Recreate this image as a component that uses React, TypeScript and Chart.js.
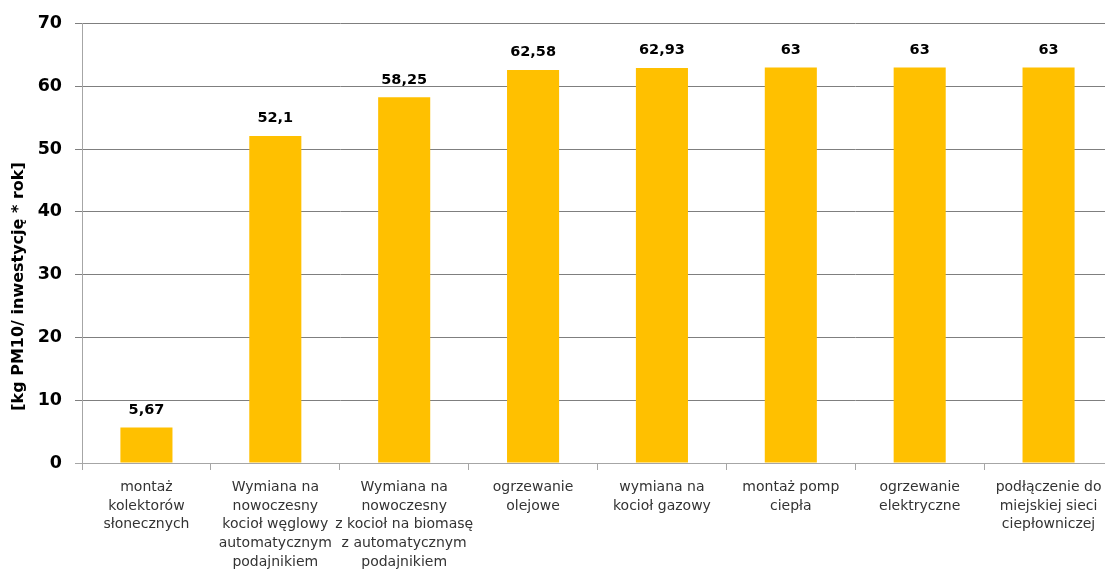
import React, { useEffect, useRef } from "react";
import { Chart, registerables } from "chart.js";

Chart.register(...registerables);

const categories: string[][] = [
  ["montaż", "kolektorów", "słonecznych"],
  ["Wymiana na", "nowoczesny", "kocioł węglowy", "automatycznym", "podajnikiem"],
  ["Wymiana na", "nowoczesny", "z kocioł na biomasę", "z automatycznym", "podajnikiem"],
  ["ogrzewanie", "olejowe"],
  ["wymiana na", "kocioł gazowy"],
  ["montaż pomp", "ciepła"],
  ["ogrzewanie", "elektryczne"],
  ["podłączenie do", "miejskiej sieci", "ciepłowniczej"],
];
const values: number[] = [5.67, 52.1, 58.25, 62.58, 62.93, 63, 63, 63];
const valueLabels: string[] = ["5,67", "52,1", "58,25", "62,58", "62,93", "63", "63", "63"];
const yAxisTitle = "[kg PM10/ inwestycję * rok]";
const yMin = 0;
const yMax = 70;
const yStep = 10;

const W = 1125;
const H = 569;

const labelsPlugin = {
  id: "valueLabels",
  afterDatasetsDraw(chart: any) {
    const ctx = chart.ctx;
    const meta = chart.getDatasetMeta(0);
    ctx.save();
    ctx.font = "bold 14.5px 'DejaVu Sans'";
    ctx.fillStyle = "#000000";
    ctx.textAlign = "center";
    ctx.textBaseline = "middle";
    meta.data.forEach((el: any, i: number) => {
      ctx.fillText(valueLabels[i], el.x, el.y - 17.5);
    });
    ctx.restore();
  },
  afterDraw(chart: any) {
    const ctx = chart.ctx;
    ctx.save();
    ctx.translate(19, 286.5);
    ctx.rotate(-Math.PI / 2);
    ctx.font = "bold 16px 'DejaVu Sans'";
    ctx.fillStyle = "#000000";
    ctx.textAlign = "center";
    ctx.textBaseline = "middle";
    ctx.fillText(yAxisTitle, 0, 0);
    ctx.restore();
  },
};

export default function App() {
  const ref = useRef<HTMLCanvasElement | null>(null);
  useEffect(() => {
    if (!ref.current) return;
    const chart = new Chart(ref.current, {
      type: "bar",
      data: {
        labels: categories,
        datasets: [
          {
            data: values,
            backgroundColor: "#FFC000",
            borderWidth: 0,
            categoryPercentage: 1,
            barPercentage: 0.404,
          },
        ],
      },
      plugins: [labelsPlugin],
      options: {
        animation: false,
        responsive: false,
        devicePixelRatio: 1,
        layout: { padding: { top: 23, right: 12, left: 0, bottom: 0 } },
        plugins: {
          legend: { display: false },
          tooltip: { enabled: false },
          title: { display: false },
        },
        scales: {
          x: {
            grid: {
              drawOnChartArea: false,
              drawTicks: true,
              tickLength: 7,
              color: "#a6a6a6",
              offset: true,
            },
            border: { color: "#a6a6a6", width: 1 },
            ticks: {
              font: { family: "'DejaVu Sans'", size: 14, lineHeight: 1.335 },
              color: "#333333",
              padding: 8,
              maxRotation: 0,
              minRotation: 0,
              autoSkip: false,
            },
            afterFit: (s: any) => {
              s.height = H - 463;
            },
          },
          y: {
            min: yMin,
            max: yMax,
            ticks: {
              stepSize: yStep,
              font: { family: "'DejaVu Sans'", size: 17.5, weight: "bold" },
              color: "#000000",
              padding: 13,
            },
            grid: {
              color: (c: any) => (c.tick && c.tick.value === 0 ? "#a6a6a6" : "#7f7f7f"),
              tickLength: 7,
              drawTicks: true,
            },
            border: { color: "#a6a6a6", width: 1 },
            afterFit: (s: any) => {
              s.width = 82;
            },
          },
        },
      },
    });
    return () => chart.destroy();
  }, []);
  return (
    <div
      style={{
        position: "absolute",
        left: 0,
        top: 0,
        width: 1105,
        height: 569,
        overflow: "hidden",
        background: "#ffffff",
      }}
    >
      <canvas ref={ref} width={W} height={H} style={{ width: W, height: H, display: "block" }} />
    </div>
  );
}
